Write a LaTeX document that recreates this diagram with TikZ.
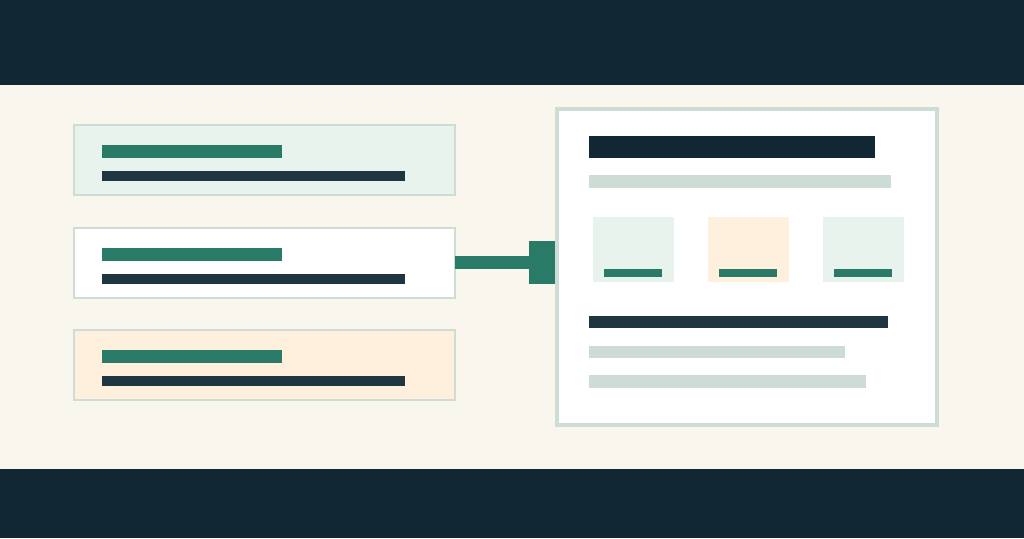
\documentclass[tikz,border=0pt]{standalone}
\usepackage{xcolor}
\definecolor{ink}{HTML}{112733}
\definecolor{slate}{HTML}{1F3640}
\definecolor{brand}{HTML}{2A7A68}
\definecolor{mint}{HTML}{E7F3EC}
\definecolor{sage}{HTML}{CDDDD5}
\definecolor{cream}{HTML}{F9F6EE}
\definecolor{peach}{HTML}{FEF0DD}
\begin{document}
\begin{tikzpicture}[x=1pt,y=-1pt, card/.style={draw=sage,line width=2pt,inner sep=0pt,outer sep=0pt,minimum width=381pt,minimum height=70pt}, bar/.style={fill=#1,draw=none}, tile/.style={fill=#1,draw=none}]
  \useasboundingbox (0,0) rectangle (1024,538);
  \fill[cream] (0,0) rectangle (1024,538);
  \fill[ink] (0,0) rectangle (1024,85);
  \fill[ink] (0,469) rectangle (1024,538);
  % source cards
  \foreach \n/\t/\c in {cardA/125/mint,cardB/227.5/white,cardC/330/peach}{
    \node[card,fill=\c] (\n) at (264.5,\t+35) {};
    \path[bar=brand] (102,\t+20) rectangle (282,\t+33);
    \path[bar=slate] (102,\t+46) rectangle (405,\t+56);
  }
  % link into the page
  \node[fill=brand,inner sep=0pt,outer sep=0pt,minimum width=29pt,minimum height=43pt] (hub) at (543.5,262.5) {};
  \draw[brand,line width=13pt] (cardB.east) -- (hub.west);
  \node[draw=sage,fill=white,line width=4pt,inner sep=0pt,outer sep=0pt,minimum width=380pt,minimum height=316pt] (page) at (747,267) {};
  \path[bar=ink] (589,136) rectangle (875,158);
  \path[bar=sage] (589,175) rectangle (891,188);
  \foreach \x/\c in {593/mint,708/peach,823/mint}{
    \path[tile=\c] (\x,217) rectangle +(81,65);
    \path[bar=brand] (\x+11,269) rectangle +(58,8);
  }
  \path[bar=slate] (589,316) rectangle (888,328);
  \path[bar=sage] (589,346) rectangle (845,358);
  \path[bar=sage] (589,375) rectangle (866,388);
\end{tikzpicture}
\end{document}
